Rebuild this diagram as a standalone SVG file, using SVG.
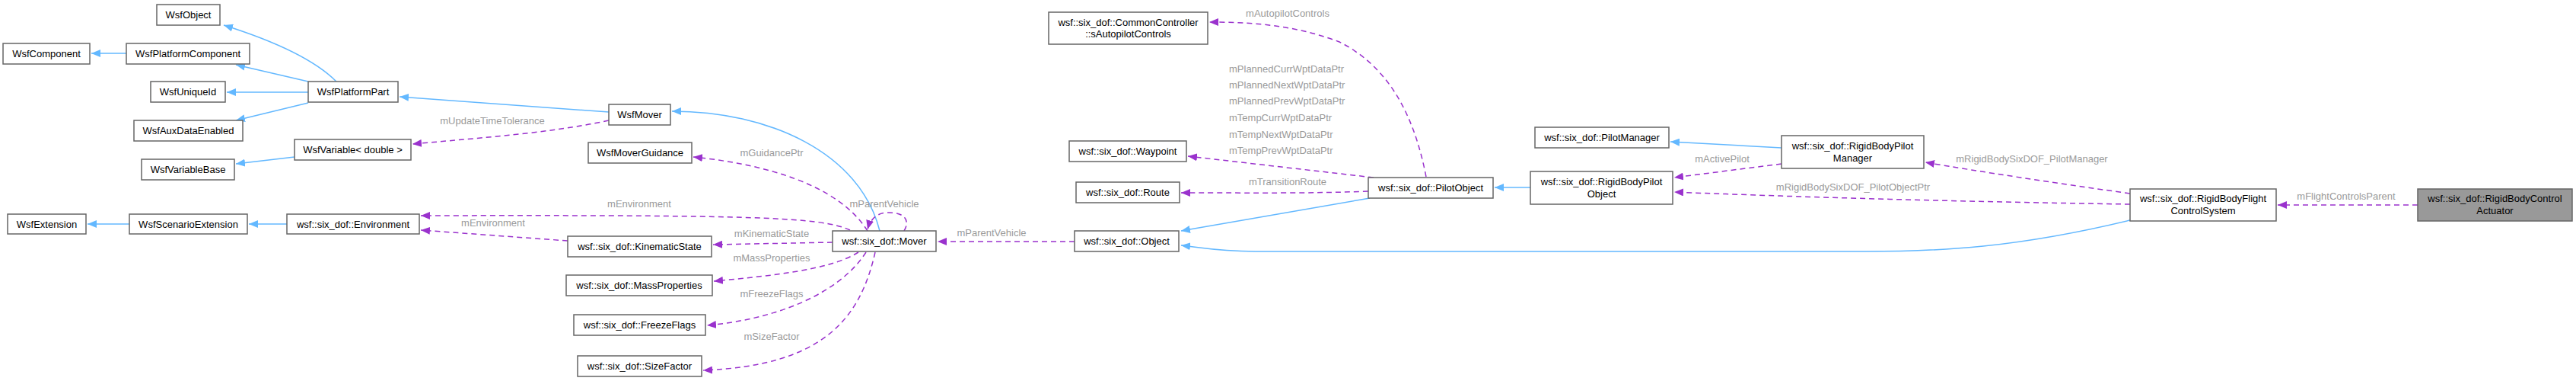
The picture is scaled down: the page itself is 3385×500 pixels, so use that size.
<svg xmlns="http://www.w3.org/2000/svg" width="3385" height="500" viewBox="0 0 3385 500">
<style>
.n rect{fill:#fff;stroke:#666;stroke-width:1.5}
.n text{font-family:"Liberation Sans",Arial,sans-serif;font-size:13px;fill:#000;text-anchor:middle}
.l{font-family:"Liberation Sans",Arial,sans-serif;font-size:13px;fill:#9a9a9a;text-anchor:middle}
.i{fill:none;stroke:#63b8ff;stroke-width:1.5}
.u{fill:none;stroke:#9a32cd;stroke-width:1.5;stroke-dasharray:7,5}
</style>
<defs>
<marker id="ab" viewBox="0 0 12 10" refX="12" refY="5" markerWidth="12" markerHeight="10" markerUnits="userSpaceOnUse" orient="auto"><path d="M0,0 L12,5 L0,10 z" fill="#63b8ff"/></marker>
<marker id="ap" viewBox="0 0 12 10" refX="12" refY="5" markerWidth="12" markerHeight="10" markerUnits="userSpaceOnUse" orient="auto"><path d="M0,0 L12,5 L0,10 z" fill="#9a32cd"/></marker>
</defs>
<rect width="3385" height="500" fill="#fff"/>
<g id="edges">
<path class="i" marker-end="url(#ab)" d="M442,107 C420,85 380,60 294,33"/>
<path class="i" marker-end="url(#ab)" d="M166,70 L120,70"/>
<path class="i" marker-end="url(#ab)" d="M405,107 L310,85"/>
<path class="i" marker-end="url(#ab)" d="M405,121 L298,121"/>
<path class="i" marker-end="url(#ab)" d="M405,135 L310,158"/>
<path class="i" marker-end="url(#ab)" d="M800,147 L525,127"/>
<path class="i" marker-end="url(#ab)" d="M387,206 L310,215"/>
<path class="u" marker-end="url(#ap)" d="M800,158 C720,175 640,180 542,189"/>
<path class="i" marker-end="url(#ab)" d="M377,294 L327,294"/>
<path class="i" marker-end="url(#ab)" d="M170,294 L115,294"/>
<path class="i" marker-end="url(#ab)" d="M1156,303 C1130,200 1010,146 883,146"/>
<path class="u" marker-end="url(#ap)" d="M1140,303 C1100,240 1000,215 911,206"/>
<path class="u" marker-end="url(#ap)" d="M1117,302 C1080,285 1000,282 553,283"/>
<path class="u" marker-end="url(#ap)" d="M746,316 L553,302"/>
<path class="u" marker-end="url(#ap)" d="M1094,318 L937,321"/>
<path class="u" marker-end="url(#ap)" d="M1128,331 C1090,355 1010,362 938,369"/>
<path class="u" marker-end="url(#ap)" d="M1138,331 C1100,390 1010,420 929,427"/>
<path class="u" marker-end="url(#ap)" d="M1150,331 C1130,420 1080,480 924,486"/>
<path class="u" marker-end="url(#ap)" d="M1188,303 C1196,290 1190,278 1165,279 C1150,280 1143,290 1140,301"/>
<path class="u" marker-end="url(#ap)" d="M1412,317 L1232,317"/>
<path class="i" marker-end="url(#ab)" d="M1800,260 L1552,303"/>
<path class="i" marker-end="url(#ab)" d="M2799,289 C2650,325 2550,330 2450,330 L1650,330 C1600,330 1580,325 1552,322"/>
<path class="u" marker-end="url(#ap)" d="M1874,232 C1860,160 1830,90 1760,55 C1700,32 1640,29 1589,29"/>
<path class="u" marker-end="url(#ap)" d="M1805,233 L1561,205"/>
<path class="u" marker-end="url(#ap)" d="M1798,251 C1720,254 1650,253 1552,253"/>
<path class="i" marker-end="url(#ab)" d="M2011,246 L1964,246"/>
<path class="i" marker-end="url(#ab)" d="M2341,194 L2195,186"/>
<path class="u" marker-end="url(#ap)" d="M2341,215 L2200,233"/>
<path class="u" marker-end="url(#ap)" d="M2799,254 C2700,240 2600,225 2530,213"/>
<path class="u" marker-end="url(#ap)" d="M2799,268 C2600,265 2400,260 2200,252"/>
<path class="u" marker-end="url(#ap)" d="M3177,269 L2993,269"/>
<text class="l" x="647" y="163">mUpdateTimeTolerance</text>
<text class="l" x="1014" y="205">mGuidancePtr</text>
<text class="l" x="840" y="272">mEnvironment</text>
<text class="l" x="648" y="297">mEnvironment</text>
<text class="l" x="1162" y="272">mParentVehicle</text>
<text class="l" x="1014" y="311">mKinematicState</text>
<text class="l" x="1014" y="343">mMassProperties</text>
<text class="l" x="1014" y="390">mFreezeFlags</text>
<text class="l" x="1014" y="446">mSizeFactor</text>
<text class="l" x="1303" y="310">mParentVehicle</text>
<text class="l" x="1692" y="22">mAutopilotControls</text>
<text class="l" style="text-anchor:start" x="1615" y="95">mPlannedCurrWptDataPtr</text>
<text class="l" style="text-anchor:start" x="1615" y="116">mPlannedNextWptDataPtr</text>
<text class="l" style="text-anchor:start" x="1615" y="137">mPlannedPrevWptDataPtr</text>
<text class="l" style="text-anchor:start" x="1615" y="159">mTempCurrWptDataPtr</text>
<text class="l" style="text-anchor:start" x="1615" y="181">mTempNextWptDataPtr</text>
<text class="l" style="text-anchor:start" x="1615" y="202">mTempPrevWptDataPtr</text>
<text class="l" x="1692" y="243">mTransitionRoute</text>
<text class="l" x="2263" y="213">mActivePilot</text>
<text class="l" x="2670" y="213">mRigidBodySixDOF_PilotManager</text>
<text class="l" x="2435" y="250">mRigidBodySixDOF_PilotObjectPtr</text>
<text class="l" x="3083" y="262">mFlightControlsParent</text>
</g>
<g id="WsfObject" class="n"><rect x="206" y="6" width="83" height="27"/><text x="247.5" y="24">WsfObject</text></g>
<g id="WsfComponent" class="n"><rect x="4" y="57" width="114" height="27"/><text x="61" y="75">WsfComponent</text></g>
<g id="WsfPlatformComponent" class="n"><rect x="166" y="57" width="162" height="27"/><text x="247" y="75">WsfPlatformComponent</text></g>
<g id="WsfUniqueId" class="n"><rect x="198" y="107" width="98" height="27"/><text x="247" y="125">WsfUniqueId</text></g>
<g id="WsfPlatformPart" class="n"><rect x="405" y="107" width="118" height="27"/><text x="464" y="125">WsfPlatformPart</text></g>
<g id="WsfAuxDataEnabled" class="n"><rect x="176" y="158" width="143" height="27"/><text x="247.5" y="176">WsfAuxDataEnabled</text></g>
<g id="WsfVariable" class="n"><rect x="387" y="183" width="153" height="27"/><text x="463.5" y="201">WsfVariable&lt; double &gt;</text></g>
<g id="WsfVariableBase" class="n"><rect x="186" y="209" width="122" height="27"/><text x="247" y="227">WsfVariableBase</text></g>
<g id="WsfMover" class="n"><rect x="800" y="137" width="81" height="27"/><text x="840.5" y="155">WsfMover</text></g>
<g id="WsfMoverGuidance" class="n"><rect x="773" y="187" width="136" height="27"/><text x="841" y="205">WsfMoverGuidance</text></g>
<g id="WsfExtension" class="n"><rect x="10" y="281" width="103" height="26"/><text x="61.5" y="299">WsfExtension</text></g>
<g id="WsfScenarioExtension" class="n"><rect x="170" y="281" width="155" height="26"/><text x="247.5" y="299">WsfScenarioExtension</text></g>
<g id="Environment" class="n"><rect x="377" y="281" width="174" height="26"/><text x="464" y="299">wsf::six_dof::Environment</text></g>
<g id="KinematicState" class="n"><rect x="746" y="310" width="189" height="27"/><text x="840.5" y="328">wsf::six_dof::KinematicState</text></g>
<g id="MassProperties" class="n"><rect x="744" y="361" width="192" height="27"/><text x="840" y="379">wsf::six_dof::MassProperties</text></g>
<g id="FreezeFlags" class="n"><rect x="754" y="413" width="173" height="27"/><text x="840.5" y="431">wsf::six_dof::FreezeFlags</text></g>
<g id="SizeFactor" class="n"><rect x="759" y="467" width="163" height="27"/><text x="840.5" y="485">wsf::six_dof::SizeFactor</text></g>
<g id="Mover" class="n"><rect x="1094" y="303" width="136" height="27"/><text x="1162" y="321">wsf::six_dof::Mover</text></g>
<g id="Object" class="n"><rect x="1412" y="303" width="137" height="27"/><text x="1480.5" y="321">wsf::six_dof::Object</text></g>
<g id="CommonController" class="n"><rect x="1378" y="16" width="209" height="42"/><text x="1482.5" y="34">wsf::six_dof::CommonController</text><text x="1482.5" y="49">::sAutopilotControls</text></g>
<g id="Waypoint" class="n"><rect x="1405" y="185" width="154" height="27"/><text x="1482" y="203">wsf::six_dof::Waypoint</text></g>
<g id="Route" class="n"><rect x="1414" y="239" width="136" height="27"/><text x="1482" y="257">wsf::six_dof::Route</text></g>
<g id="PilotObject" class="n"><rect x="1798" y="233" width="164" height="27"/><text x="1880" y="251">wsf::six_dof::PilotObject</text></g>
<g id="PilotManager" class="n"><rect x="2017" y="167" width="176" height="27"/><text x="2105" y="185">wsf::six_dof::PilotManager</text></g>
<g id="RigidBodyPilotObject" class="n"><rect x="2011" y="225" width="187" height="43"/><text x="2104.5" y="243">wsf::six_dof::RigidBodyPilot</text><text x="2104.5" y="259">Object</text></g>
<g id="RigidBodyPilotManager" class="n"><rect x="2341" y="178" width="187" height="43"/><text x="2434.5" y="196">wsf::six_dof::RigidBodyPilot</text><text x="2434.5" y="212">Manager</text></g>
<g id="FlightControlSystem" class="n"><rect x="2799" y="248" width="192" height="42"/><text x="2895" y="265">wsf::six_dof::RigidBodyFlight</text><text x="2895" y="281">ControlSystem</text></g>
<g id="Actuator" class="n"><rect x="3177" y="248" width="203" height="42" style="fill:#999"/><text x="3278.5" y="265">wsf::six_dof::RigidBodyControl</text><text x="3278.5" y="281">Actuator</text></g>
</svg>
